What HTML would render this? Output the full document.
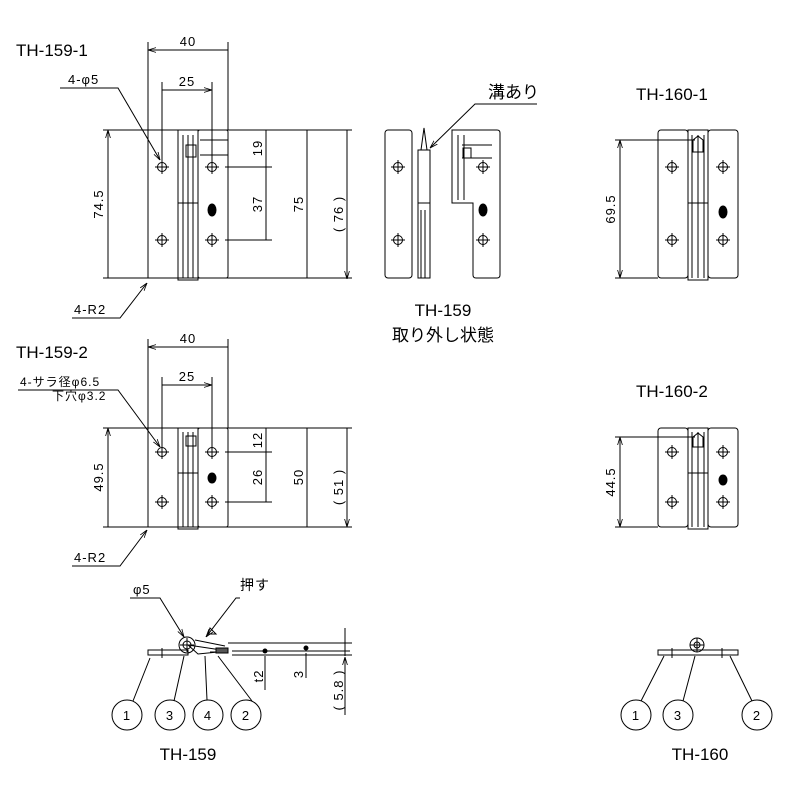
<!DOCTYPE html>
<html><head><meta charset="utf-8"><style>body{margin:0;background:#fff}svg{display:block}text{font-family:"Liberation Sans","Noto Sans CJK JP",sans-serif;fill:#000}</style></head><body>
<svg width="800" height="800" viewBox="0 0 800 800" xmlns="http://www.w3.org/2000/svg">
<defs>
<marker id="a" viewBox="0 0 10 10" refX="10" refY="5" markerWidth="8" markerHeight="8" orient="auto-start-reverse"><path d="M0,2 L10,5 L0,8" fill="none" stroke="#000" stroke-width="1"/></marker>
<g id="h"><circle r="4.5" fill="none" stroke="#000"/><path d="M-7,0H7M0,-7V7" stroke="#000"/></g>
</defs>
<g stroke="#000" stroke-width="1" fill="none">
<!-- TH-159-1 -->
<path d="M148,42V278M228,42V130M162,82V160M212,82V160"/>
<path d="M148,50H228M162,90H212" marker-start="url(#a)" marker-end="url(#a)"/>
<path d="M103,130H352M103,278H352M225,167H272M225,240H272"/>
<path d="M108,130V278M266,130V167M266,167V240M307,130V278M347,130V279" marker-start="url(#a)" marker-end="url(#a)"/>
<rect x="148" y="130" width="30" height="148"/>
<rect x="178" y="130" width="20" height="73"/><rect x="178" y="203" width="20" height="77"/>
<rect x="198" y="130" width="30" height="148" rx="2"/>
<path d="M183,135V278M188,135V278M193,135V278M186,145h10v12h-10z M200,140h28M200,155h28"/>
<path d="M60,88H118L160,160" marker-end="url(#a)"/>
<path d="M72,318H120L147,283" marker-end="url(#a)"/>
<ellipse cx="212" cy="210" rx="4" ry="6" fill="#000"/>
<!-- TH-159-2 -->
<path d="M148,339V527M228,339V428M162,377V445M212,377V445"/>
<path d="M148,347H228M162,385H212" marker-start="url(#a)" marker-end="url(#a)"/>
<path d="M103,428H352M103,527H352M225,452H272M225,502H272"/>
<path d="M108,428V527M266,428V452M266,452V502M307,428V527M347,428V527" marker-start="url(#a)" marker-end="url(#a)"/>
<rect x="148" y="428" width="30" height="99"/>
<rect x="178" y="428" width="20" height="45"/><rect x="178" y="473" width="20" height="56"/>
<rect x="198" y="428" width="30" height="99" rx="2"/>
<path d="M183,432V527M188,432V527M193,432V527M186,436h10v10h-10z"/>
<path d="M18,390H118L160,447" marker-end="url(#a)"/>
<path d="M72,566H120L147,530" marker-end="url(#a)"/>
<ellipse cx="212" cy="478" rx="4" ry="5" fill="#000"/>
<!-- middle removed -->
<rect x="385" y="130" width="27" height="148" rx="3"/>
<path d="M418,278V150h12v128zM418,203h12M421,150l3,-22l3,22M421,210V278M425,210V278"/>
<path d="M452,203V130h45q3,0,3,3v142q0,3,-3,3h-21q-3,0,-3,-3V203z"/>
<path d="M458,135V200M464,135V200M462,145h30M462,158h30M463,148h8v10h-8z"/>
<path d="M537,104H475L430,148" marker-end="url(#a)"/>
<ellipse cx="483" cy="210" rx="4" ry="6" fill="#000"/>
<!-- TH-160-1 -->
<rect x="658" y="130" width="30" height="148" rx="3"/>
<rect x="688" y="130" width="20" height="150"/>
<rect x="708" y="130" width="30" height="148" rx="3"/>
<path d="M688,203h20M692,135V278M698,135V278M704,135V278M693,152h10v-12l-5,-4l-5,4z"/>
<path d="M615,140H695M615,278H658"/>
<path d="M620,140V278" marker-start="url(#a)" marker-end="url(#a)"/>
<ellipse cx="723" cy="212" rx="4" ry="6" fill="#000"/>
<!-- TH-160-2 -->
<rect x="658" y="428" width="30" height="99" rx="3"/>
<rect x="688" y="428" width="20" height="101"/>
<rect x="708" y="428" width="30" height="99" rx="3"/>
<path d="M688,473h20M692,432V527M698,432V527M704,432V527M693,447h10v-10l-5,-4l-5,4z"/>
<path d="M615,437H695M615,527H658"/>
<path d="M620,437V527" marker-start="url(#a)" marker-end="url(#a)"/>
<ellipse cx="723" cy="480" rx="4" ry="5" fill="#000"/>
<!-- bottom TH-159 -->
<rect x="148" y="650" width="40" height="5"/>
<path d="M162,648v10M188,645l40,6l-30,3zM210,652h18M232,651H350M232,655H350M195,640l30,6"/>
<rect x="216" y="648" width="12" height="5" fill="#555"/>
<circle cx="187" cy="645" r="8"/><circle cx="187" cy="645" r="4"/>
<path d="M180,645h14M187,638v14"/>
<path d="M130,598H160L184,637" marker-end="url(#a)"/>
<path d="M240,598H236L206,637" marker-end="url(#a)"/>
<path d="M210,628l6,6l-8,0z"/>
<path d="M228,643H352M340,655H352"/>
<circle cx="265" cy="651" r="2" fill="#000"/><circle cx="306" cy="648" r="2" fill="#000"/>
<path d="M265,690V656M306,678V653M345,628V642M345,692V657" marker-end="url(#a)"/>
<path d="M345,642V656M345,657V715"/>
<circle cx="127" cy="715" r="15"/><circle cx="170" cy="715" r="15"/><circle cx="208" cy="715" r="15"/><circle cx="246" cy="715" r="15"/>
<path d="M133,701L150,658M174,701L184,656M207,700L205,656M252,701L218,656"/>
<!-- bottom TH-160 -->
<rect x="658" y="650" width="80" height="5"/>
<circle cx="697" cy="645" r="7"/><circle cx="697" cy="645" r="3"/><path d="M690,645h14M697,638v14M672,648v10M722,648v10"/>
<circle cx="636" cy="715" r="15"/><circle cx="678" cy="715" r="15"/><circle cx="757" cy="715" r="15"/>
<path d="M641,701L664,656M683,701L695,656M752,701L730,656"/>
</g>
<g fill="#000" stroke="none">
<use href="#h" x="162" y="167"/><use href="#h" x="162" y="240"/><use href="#h" x="212" y="167"/><use href="#h" x="212" y="240"/>
<use href="#h" x="162" y="452"/><use href="#h" x="162" y="502"/><use href="#h" x="212" y="452"/><use href="#h" x="212" y="502"/>
<use href="#h" x="398" y="167"/><use href="#h" x="398" y="240"/><use href="#h" x="483" y="167"/><use href="#h" x="483" y="240"/>
<use href="#h" x="672" y="167"/><use href="#h" x="672" y="240"/><use href="#h" x="723" y="167"/><use href="#h" x="723" y="240"/>
<use href="#h" x="672" y="452"/><use href="#h" x="672" y="502"/><use href="#h" x="723" y="452"/><use href="#h" x="723" y="502"/>
</g>
<g font-size="17">
<text x="16" y="56">TH-159-1</text><text x="16" y="358">TH-159-2</text>
<text x="636" y="100">TH-160-1</text><text x="636" y="397">TH-160-2</text>
<text x="443" y="316" text-anchor="middle">TH-159</text>
<text x="443" y="341" text-anchor="middle">取り外し状態</text>
<text x="188" y="760" text-anchor="middle">TH-159</text><text x="700" y="760" text-anchor="middle">TH-160</text>
<text x="488" y="98">溝あり</text>
</g>
<g font-size="13" letter-spacing="1">
<text x="188" y="46" text-anchor="middle">40</text><text x="187" y="86" text-anchor="middle">25</text>
<text x="188" y="343" text-anchor="middle">40</text><text x="187" y="381" text-anchor="middle">25</text>
<text x="68" y="84">4-φ5</text><text x="74" y="314">4-R2</text><text x="74" y="562">4-R2</text>
<text x="20" y="386" font-size="12">4-サラ径φ6.5</text><text x="52" y="400" font-size="12">下穴φ3.2</text>
<text x="133" y="594">φ5</text><text x="240" y="590" font-size="14">押す</text>
<g text-anchor="middle">
<text transform="translate(103,204) rotate(-90)">74.5</text>
<text transform="translate(262,148) rotate(-90)">19</text>
<text transform="translate(262,204) rotate(-90)">37</text>
<text transform="translate(303,204) rotate(-90)">75</text>
<text transform="translate(343,214) rotate(-90)">( 76 )</text>
<text transform="translate(103,477) rotate(-90)">49.5</text>
<text transform="translate(262,440) rotate(-90)">12</text>
<text transform="translate(262,477) rotate(-90)">26</text>
<text transform="translate(303,477) rotate(-90)">50</text>
<text transform="translate(343,487) rotate(-90)">( 51 )</text>
<text transform="translate(615,209) rotate(-90)">69.5</text>
<text transform="translate(615,482) rotate(-90)">44.5</text>
<text transform="translate(263,676) rotate(-90)">t2</text>
<text transform="translate(303,674) rotate(-90)">3</text>
<text transform="translate(343,690) rotate(-90)">( 5.8 )</text>
<text x="127" y="720">1</text><text x="170" y="720">3</text><text x="208" y="720">4</text><text x="246" y="720">2</text>
<text x="636" y="720">1</text><text x="678" y="720">3</text><text x="757" y="720">2</text>
</g>
</g>
</svg>
</body></html>
